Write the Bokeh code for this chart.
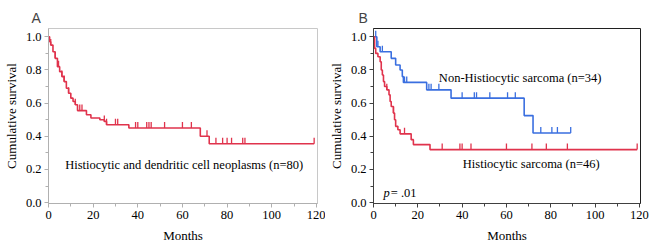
import numpy as np
from bokeh.plotting import figure
from bokeh.layouts import row
from bokeh.models import Range1d, Label, FixedTicker, CustomJSTickFormatter
from bokeh.embed import file_html
from bokeh.resources import INLINE

# Panel A: Histiocytic and dendritic cell neoplasms (n=80)
a_time = [0, 0.5, 1, 2, 3, 4, 5, 6, 7, 8, 9, 10, 11, 12, 13, 17, 19, 23, 25, 26, 36, 68, 72, 119]
a_surv = [1.0, 0.97, 0.95, 0.91, 0.87, 0.82, 0.79, 0.76, 0.73, 0.69, 0.66, 0.63, 0.61, 0.59, 0.555,
          0.53, 0.51, 0.50, 0.49, 0.47, 0.45, 0.40, 0.355, 0.355]
a_cens = [1, 3, 4.5, 6, 7, 9, 12, 14, 15, 25, 26, 30, 31, 39, 40, 44, 45, 46, 52, 60, 64, 71,
          75, 78, 80, 82, 87, 88, 119]

# Panel B: Non-Histiocytic sarcoma (n=34)
nh_time = [0, 1.5, 3, 8, 10, 12, 13, 13.5, 24, 35, 68, 72, 89]
nh_surv = [1.0, 0.94, 0.91, 0.87, 0.83, 0.80, 0.76, 0.725, 0.68, 0.63, 0.525, 0.42, 0.42]
nh_cens = [1, 2, 4, 14, 15, 25, 26, 29.5, 40, 45.5, 46.5, 52.5, 60.5, 64, 75.5, 80.5, 83, 89]

# Panel B: Histiocytic sarcoma (n=46)
hs_time = [0, 0.5, 1, 2, 3, 3.5, 4, 4.5, 5, 6, 7, 7.5, 8, 9, 9.5, 10, 11, 12, 17, 18, 25.5, 119]
hs_surv = [1.0, 0.93, 0.90, 0.88, 0.85, 0.80, 0.77, 0.73, 0.70, 0.68, 0.65, 0.61, 0.58, 0.54,
           0.50, 0.46, 0.44, 0.415, 0.38, 0.35, 0.32, 0.32]
hs_cens = [6, 9, 14, 31, 39, 40, 44, 60, 71.5, 78, 87.5, 119]

x_ticks = [0, 20, 40, 60, 80, 100, 120]
y_ticks = [0.0, 0.2, 0.4, 0.6, 0.8, 1.0]

RED = "#e0334c"
BLUE = "#3a6fe0"
SERIF = "Liberation Serif"
TXT = "12.5px"


def surv_at(times, survs, t):
    idx = np.searchsorted(np.array(times), np.array(t), side="right") - 1
    return list(np.array(survs)[idx])


def make_panel(letter, frame_color, axis_color, left):
    p = figure(width=325, height=250, output_backend="svg", toolbar_location=None,
               x_range=Range1d(0, 120.5), y_range=Range1d(-0.005, 1.05),
               min_border_left=left, min_border_right=325 - left - 272,
               min_border_top=28, min_border_bottom=47, title=letter)
    p.title.text_font = "Liberation Sans"
    p.title.text_font_size = "14px"
    p.title.text_font_style = "normal"
    p.title.align = "left"
    p.title.offset = 28 - left
    p.title.standoff = 6
    p.outline_line_color = frame_color
    p.outline_line_width = 1
    p.xgrid.visible = False
    p.ygrid.visible = False
    p.xaxis.ticker = FixedTicker(ticks=x_ticks, minor_ticks=list(range(0, 121, 10)))
    p.yaxis.ticker = FixedTicker(ticks=y_ticks, minor_ticks=[i / 10 for i in range(11)])
    p.yaxis.formatter = CustomJSTickFormatter(code="return tick.toFixed(1);")
    for ax in (p.xaxis, p.yaxis):
        ax.axis_line_color = axis_color
        ax.major_tick_line_color = axis_color
        ax.minor_tick_line_color = axis_color
        ax.major_tick_out = 4
        ax.major_tick_in = 0
        ax.minor_tick_out = 3
        ax.minor_tick_in = 0
        ax.major_label_text_font = SERIF
        ax.major_label_text_font_size = TXT
        ax.major_label_text_color = "black"
        ax.axis_label_text_font = SERIF
        ax.axis_label_text_font_size = "13px"
        ax.axis_label_text_font_style = "normal"
        ax.axis_label_text_color = "black"
    p.xaxis.axis_label = "Months"
    p.yaxis.axis_label = "Cumulative survival"
    p.xaxis.axis_label_standoff = 6
    p.yaxis.axis_label_standoff = 4
    p.xaxis.major_label_standoff = 3
    p.yaxis.major_label_standoff = 3
    return p


pa = make_panel("A", "#c8c8c8", "#b0b0b0", 45)
pa.step(a_time, a_surv, mode="after", line_color=RED, line_width=1.6)
pa.ray(a_cens, surv_at(a_time, a_surv, a_cens), length=6, angle=np.pi / 2,
       length_units="screen", line_color=RED, line_width=1.3)
pa.add_layout(Label(x=7.5, y=0.23, text="Histiocytic and dendritic cell neoplasms (n=80)",
                    text_font=SERIF, text_font_size=TXT, text_baseline="middle",
                    text_color="black"))

pb = make_panel("B", "#202020", "#404040", 43)
pb.step(nh_time, nh_surv, mode="after", line_color=BLUE, line_width=1.6)
pb.ray(nh_cens, surv_at(nh_time, nh_surv, nh_cens), length=6, angle=np.pi / 2,
       length_units="screen", line_color=BLUE, line_width=1.3)
pb.step(hs_time, hs_surv, mode="after", line_color=RED, line_width=1.6)
pb.ray(hs_cens, surv_at(hs_time, hs_surv, hs_cens), length=6, angle=np.pi / 2,
       length_units="screen", line_color=RED, line_width=1.3)
pb.add_layout(Label(x=29.5, y=0.75, text="Non-Histiocytic sarcoma (n=34)",
                    text_font=SERIF, text_font_size=TXT, text_baseline="middle",
                    text_color="black"))
pb.add_layout(Label(x=40.3, y=0.235, text="Histiocytic sarcoma (n=46)",
                    text_font=SERIF, text_font_size=TXT, text_baseline="middle",
                    text_color="black"))
pb.add_layout(Label(x=4.5, y=0.06, text="p", text_font=SERIF, text_font_size=TXT,
                    text_font_style="italic", text_baseline="middle", text_color="black"))
pb.add_layout(Label(x=7.8, y=0.06, text="= .01", text_font=SERIF, text_font_size=TXT,
                    text_baseline="middle", text_color="black"))

layout = row(pa, pb)
open("out.html", "w").write(file_html(layout, INLINE))
